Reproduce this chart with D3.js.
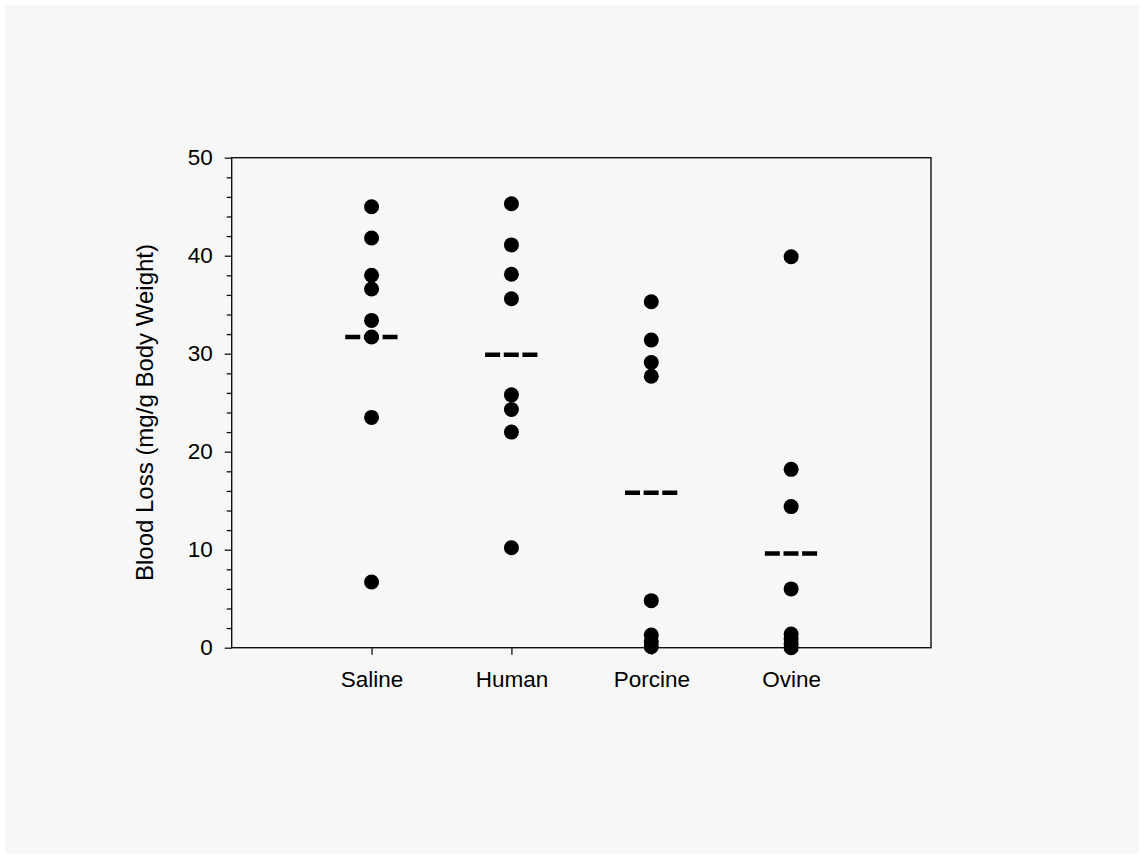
<!DOCTYPE html>
<html>
<head>
<meta charset="utf-8">
<script src="https://cdn.jsdelivr.net/npm/d3@7/dist/d3.min.js"></script>
<style>
  html, body { margin: 0; padding: 0; background: #ffffff; }
  svg { display: block; }
  text { font-family: "Liberation Sans", Arial, Helvetica, sans-serif; fill: #000; }
</style>
</head>
<body>
<svg id="chart" width="1144" height="859"></svg>
<script>
const categories = ["Saline", "Human", "Porcine", "Ovine"];
const salineValues  = [45.0, 41.8, 38.0, 36.6, 33.4, 31.7, 23.5, 6.7];
const humanValues   = [45.3, 41.1, 38.1, 35.6, 25.8, 24.3, 22.0, 10.2];
const porcineValues = [35.3, 31.4, 29.1, 27.7, 4.8, 1.3, 0.6, 0.1];
const ovineValues   = [39.9, 18.2, 14.4, 6.0, 1.4, 0.9, 0.4, 0.0];
const meanValues    = [31.7, 29.9, 15.8, 9.6];
const yTickValues   = [0, 10, 20, 30, 40, 50];
const yMinorTickValues = [2,4,6,8,12,14,16,18,22,24,26,28,32,34,36,38,42,44,46,48];
const yLabel = "Blood Loss (mg/g Body Weight)";

const seriesValues = [salineValues, humanValues, porcineValues, ovineValues];

const svg = d3.select("#chart");
svg.append("rect").attr("x", 5).attr("y", 5).attr("width", 1134).attr("height", 849).attr("fill", "#f7f7f7");

const plotLeft = 231.7, plotRight = 931, plotTop = 157.7, plotBottom = 647.7;

const x = d3.scalePoint().domain(categories).range([plotLeft, plotRight]).padding(1);
const y = d3.scaleLinear().domain([0, 50]).range([plotBottom, plotTop]);

// frame
svg.append("rect").attr("x", plotLeft).attr("y", plotTop)
  .attr("width", plotRight - plotLeft).attr("height", plotBottom - plotTop)
  .attr("fill", "none").attr("stroke", "#111").attr("stroke-width", 1.4);

// y axis
const yAxis = svg.append("g").attr("transform", `translate(${plotLeft},0)`)
  .call(d3.axisLeft(y).tickValues(yTickValues).tickSize(7).tickPadding(12).tickFormat(d3.format("d")));
yAxis.select(".domain").remove();
yAxis.selectAll("line").attr("stroke", "#111").attr("stroke-width", 1.3);
yAxis.selectAll("text").attr("font-size", "22.5px").attr("fill", "#000")
  .attr("font-family", "'Liberation Sans', Arial, sans-serif");

const yMinor = svg.append("g").attr("transform", `translate(${plotLeft},0)`)
  .call(d3.axisLeft(y).tickValues(yMinorTickValues).tickSize(5).tickFormat(""));
yMinor.select(".domain").remove();
yMinor.selectAll("line").attr("stroke", "#111").attr("stroke-width", 1.3);

// x axis
const xAxis = svg.append("g").attr("transform", `translate(0,${plotBottom})`)
  .call(d3.axisBottom(x).tickSize(7).tickPadding(16));
xAxis.select(".domain").remove();
xAxis.selectAll("line").attr("stroke", "#111").attr("stroke-width", 1.3);
xAxis.selectAll("text").attr("font-size", "22.5px").attr("fill", "#000")
  .attr("font-family", "'Liberation Sans', Arial, sans-serif");

// y label
svg.append("text")
  .attr("transform", `translate(153,412.5) rotate(-90)`)
  .attr("text-anchor", "middle")
  .attr("font-size", "24px")
  .text(yLabel);

// points
const pts = [];
seriesValues.forEach((vals, i) => vals.forEach(v => pts.push({cat: categories[i], v})));
svg.append("g").selectAll("circle").data(pts).join("circle")
  .attr("cx", d => x(d.cat)).attr("cy", d => y(d.v)).attr("r", 7.5).attr("fill", "#000");

// mean lines
svg.append("g").selectAll("line").data(categories).join("line")
  .attr("x1", d => x(d) - 26.3).attr("x2", d => x(d) + 26.3)
  .attr("y1", (d, i) => y(meanValues[i])).attr("y2", (d, i) => y(meanValues[i]))
  .attr("stroke", "#000").attr("stroke-width", 4.5)
  .attr("stroke-dasharray", "15,3.65");
</script>
</body>
</html>
